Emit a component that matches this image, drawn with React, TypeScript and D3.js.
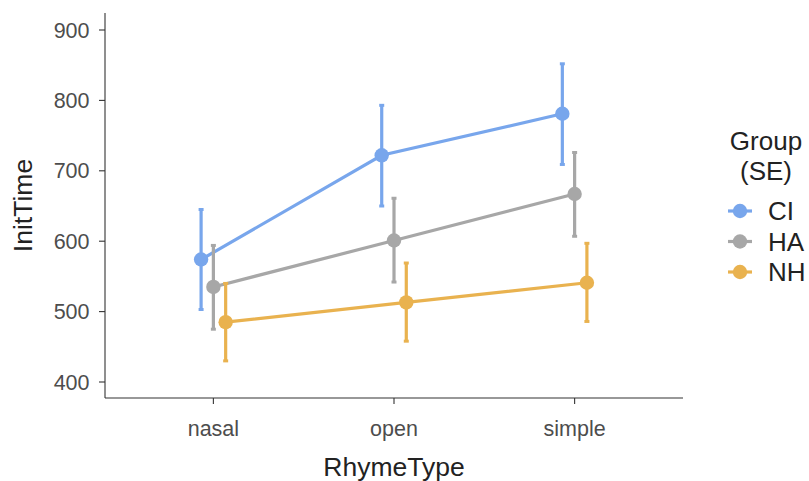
import React from "react";
import * as d3 from "d3";

const categories = ["nasal", "open", "simple"];
const groups = ["CI", "HA", "NH"];
const colors = ["#78A6EC", "#A7A7A7", "#E9B24F"];
const meanCI = [574, 722, 781];
const lowCI = [503, 650, 709];
const highCI = [645, 793, 852];
const meanHA = [535, 601, 667];
const lowHA = [475, 542, 607];
const highHA = [594, 661, 726];
const meanNH = [485, 513, 541];
const lowNH = [430, 458, 486];
const highNH = [540, 569, 597];
const yTicks = [400, 500, 600, 700, 800, 900];

const series = [
  { name: groups[0], color: colors[0], mean: meanCI, low: lowCI, high: highCI },
  { name: groups[1], color: colors[1], mean: meanHA, low: lowHA, high: highHA },
  { name: groups[2], color: colors[2], mean: meanNH, low: lowNH, high: highNH },
];

export default function App() {
  const W = 809, H = 481;
  const left = 105, right = 683, top = 13, bottom = 398;
  const x = d3.scaleLinear().domain([0.4, 3.6]).range([left, right]);
  const y = d3.scaleLinear().domain([400, 900]).range([382, 30]);
  const dodge = 0.068;
  const font = "'Liberation Sans', Arial, sans-serif";
  const line = d3.line<[number, number]>().x((d) => d[0]).y((d) => d[1]);

  return (
    <svg width={W} height={H} style={{ position: "absolute", left: 0, top: 0 }} fontFamily={font}>
      <rect width={W} height={H} fill="white" />
      {/* axes */}
      <line x1={left} x2={left} y1={top} y2={bottom} stroke="#333" strokeWidth={1.1} />
      <line x1={left} x2={right} y1={bottom} y2={bottom} stroke="#333" strokeWidth={1.1} />
      {yTicks.map((t) => (
        <g key={t}>
          <line x1={left - 6} x2={left} y1={y(t)} y2={y(t)} stroke="#333" strokeWidth={1.1} />
          <text x={89.5} y={y(t)} dy="0.35em" textAnchor="end" fontSize={21.5} fill="#4D4D4D">
            {t}
          </text>
        </g>
      ))}
      {categories.map((c, i) => (
        <g key={c}>
          <line x1={x(i + 1)} x2={x(i + 1)} y1={bottom} y2={bottom + 6} stroke="#333" strokeWidth={1.1} />
          <text x={x(i + 1)} y={436} textAnchor="middle" fontSize={21.5} fill="#4D4D4D">
            {c}
          </text>
        </g>
      ))}
      <text x={(left + right) / 2} y={476} textAnchor="middle" fontSize={26.5} fill="#222">
        RhymeType
      </text>
      <text
        transform={`translate(32,${(top + bottom) / 2}) rotate(-90)`}
        textAnchor="middle"
        fontSize={26.5}
        fill="#222"
      >
        InitTime
      </text>
      {/* data */}
      {series.map((s, gi) => {
        const off = (gi - 1) * dodge;
        const pts: [number, number][] = s.mean.map((m, i) => [x(i + 1 + off), y(m)]);
        return (
          <g key={s.name}>
            <path d={line(pts) || ""} fill="none" stroke={s.color} strokeWidth={3.2} />
            {s.mean.map((m, i) => {
              const cx = x(i + 1 + off);
              return (
                <g key={i}>
                  <line x1={cx} x2={cx} y1={y(s.low[i])} y2={y(s.high[i])} stroke={s.color} strokeWidth={3.2} />
                  <line x1={cx - 2.5} x2={cx + 2.5} y1={y(s.low[i])} y2={y(s.low[i])} stroke={s.color} strokeWidth={3} />
                  <line x1={cx - 2.5} x2={cx + 2.5} y1={y(s.high[i])} y2={y(s.high[i])} stroke={s.color} strokeWidth={3} />
                  <circle cx={cx} cy={y(m)} r={7.2} fill={s.color} />
                </g>
              );
            })}
          </g>
        );
      })}
      {/* legend */}
      <text x={766} y={150} textAnchor="middle" fontSize={26} fill="#222">Group</text>
      <text x={766} y={180} textAnchor="middle" fontSize={26} fill="#222">(SE)</text>
      {series.map((s, gi) => {
        const ly = 211 + gi * 30.5;
        return (
          <g key={s.name}>
            <line x1={728} x2={752} y1={ly} y2={ly} stroke={s.color} strokeWidth={3.2} />
            <circle cx={740} cy={ly} r={7.2} fill={s.color} />
            <text x={768} y={ly} dy="0.36em" fontSize={26} fill="#222">{s.name}</text>
          </g>
        );
      })}
    </svg>
  );
}
